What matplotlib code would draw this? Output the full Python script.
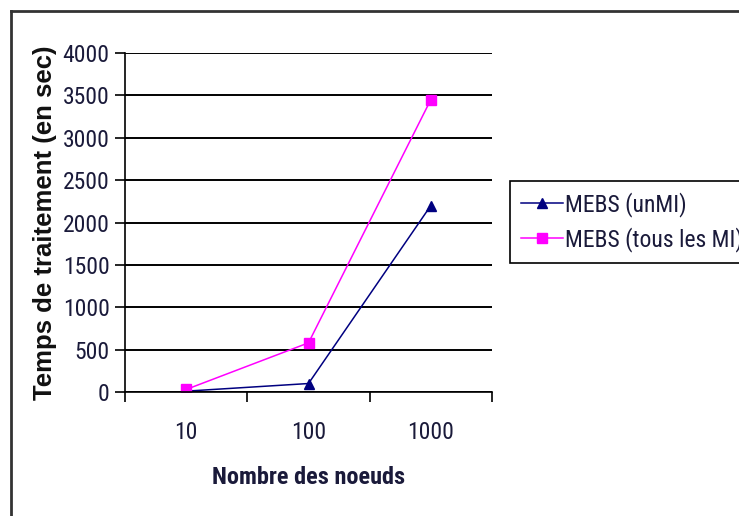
import matplotlib.pyplot as plt
from matplotlib.lines import Line2D

# processing time vs. number of nodes
noeuds = ["10", "100", "1000"]
temps_unmi = [10, 100, 2200]
temps_tous = [30, 580, 3450]
y_ticks = [0, 500, 1000, 1500, 2000, 2500, 3000, 3500, 4000]

plt.rcParams["font.family"] = ["Roboto Condensed", "DejaVu Sans"]
TXT = "#1a1a3a"

W, H = 739, 516
fig = plt.figure(figsize=(W / 100, H / 100), dpi=100)
ax = fig.add_axes([125 / W, (H - 392) / H, 367 / W, 339 / H])

x = list(range(len(noeuds)))
ax.plot(x, temps_unmi, color="#000080", lw=1.1, marker="^", markersize=7,
        label="MEBS (unMI)")
ax.plot(x, temps_tous, color="#FF00FF", lw=1.1, marker="s", markersize=7,
        label="MEBS (tous les MI)")

ax.set_xlim(-0.5, len(noeuds) - 0.5)
ax.set_ylim(0, 4000)
ax.set_yticks(y_ticks)
ax.tick_params(axis="y", labelsize=17, length=7, width=1.2, direction="out",
               pad=4, labelcolor=TXT)

# category boundaries get the tick marks, centres get the labels
ax.set_xticks([i - 0.5 for i in range(len(noeuds) + 1)])
ax.set_xticklabels([])
ax.set_xticks(x, minor=True)
ax.set_xticklabels(noeuds, minor=True)
ax.tick_params(axis="x", which="major", length=7, width=1.2, direction="out")
ax.tick_params(axis="x", which="minor", length=0, labelsize=17, pad=21,
               labelcolor=TXT)

ax.yaxis.grid(True, color="black", lw=1.4)
ax.set_axisbelow(True)
for side in ("top", "right"):
    ax.spines[side].set_visible(False)
for side in ("left", "bottom"):
    ax.spines[side].set_linewidth(1.2)

ax.set_ylabel("Temps de traitement (en sec)", fontsize=18.5, fontweight="bold",
              family=["Liberation Sans", "DejaVu Sans"], labelpad=4,
              color="#111111")
ax.set_xlabel("Nombre des noeuds", fontsize=17.5, fontweight="bold",
              labelpad=16, color=TXT)

leg = ax.legend(loc="upper left", bbox_to_anchor=(510 / W, 1 - 181 / H),
                bbox_transform=fig.transFigure, borderaxespad=0,
                fontsize=17, fancybox=False, framealpha=1, edgecolor="black",
                handlelength=1.8, handletextpad=0.1, borderpad=0.45,
                labelspacing=0.45)
leg.get_frame().set_linewidth(1.2)
for t in leg.get_texts():
    t.set_color(TXT)

# outer chart frame (left and top edges)
fig.add_artist(Line2D([11 / W, 11 / W], [0, 1 - 11 / H], color="#333333",
                      lw=2, transform=fig.transFigure))
fig.add_artist(Line2D([11 / W, 1], [1 - 11 / H, 1 - 11 / H], color="#333333",
                      lw=2, transform=fig.transFigure))

fig.savefig("out.png", dpi=100)
